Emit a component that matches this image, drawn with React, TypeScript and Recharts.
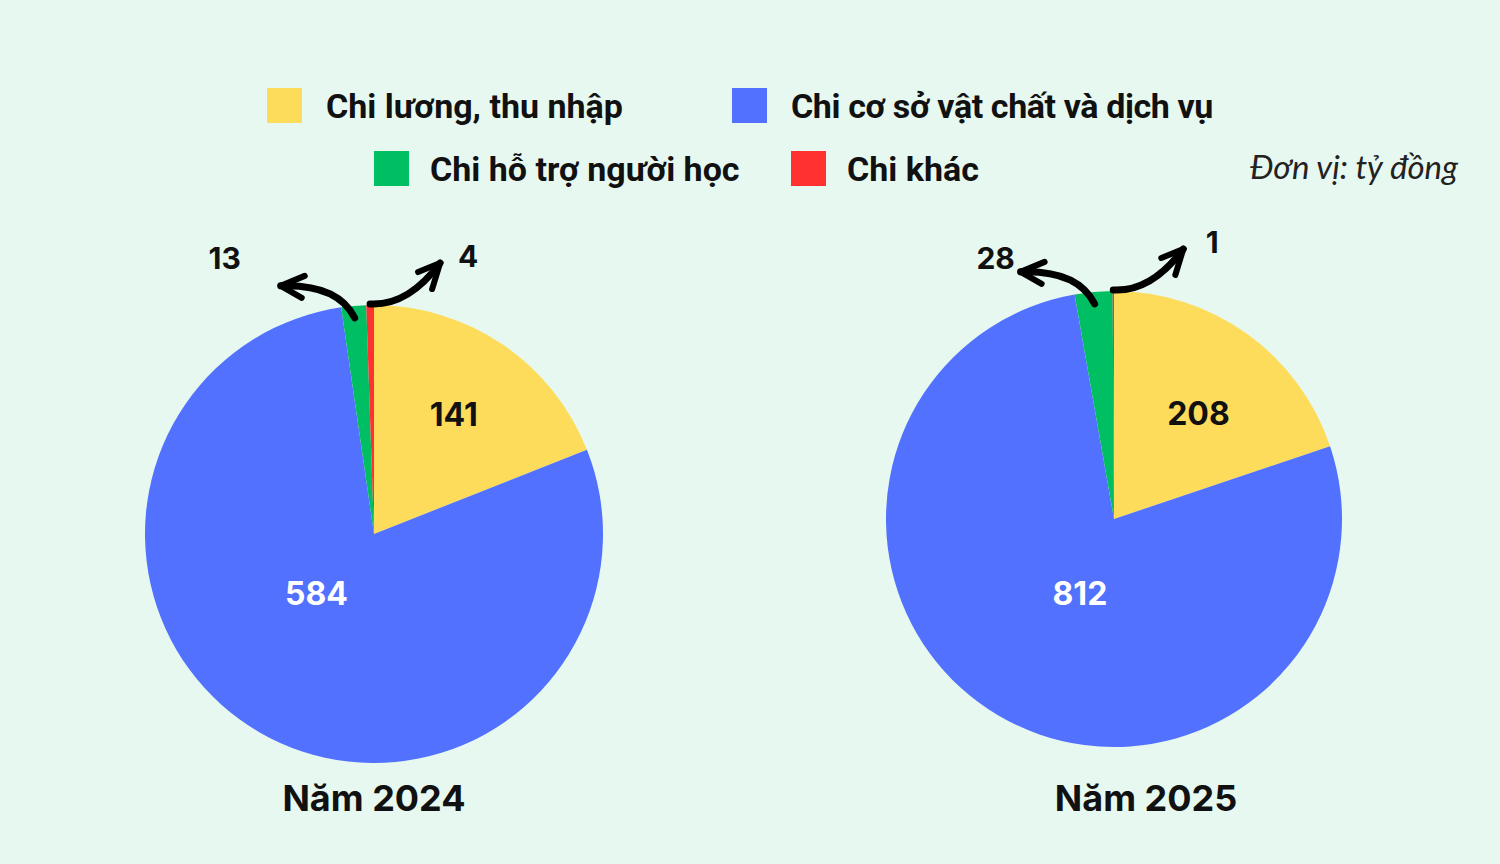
import { Pie, PieChart } from 'recharts';

const categories = [
  'Chi lương, thu nhập',
  'Chi cơ sở vật chất và dịch vụ',
  'Chi hỗ trợ người học',
  'Chi khác',
];
const values2024 = [141, 584, 13, 4];
const values2025 = [208, 812, 28, 1];
const years = ['Năm 2024', 'Năm 2025'];
const colors = ['#FDDC5C', '#5271FF', '#00BF63', '#FF3131'];
const unitLabel = 'Đơn vị: tỷ đồng';

const RADIAN = Math.PI / 180;
const BG = '#E7F8F0';

// layout of each pie; label nudges are hand placement of the value texts
const pies = [
  {
    values: values2024, cx: 374, cy: 534, r: 229, titleX: 374,
    inner: [[0, -2], [-15, -14]], leftText: [-56, -28], rightText: [28, -7],
  },
  {
    values: values2025, cx: 1114, cy: 519, r: 228, titleX: 1146,
    inner: [[2, 9], [9, 2]], leftText: [-25, -14], rightText: [29, -7],
  },
];

const legendRows = [
  [{ i: 0, x: 267 }, { i: 1, x: 732 }],
  [{ i: 2, x: 374 }, { i: 3, x: 791 }],
];

const numFont = 'Inter, "DejaVu Sans", sans-serif';

function polar(cx: number, cy: number, r: number, a: number) {
  return [cx + r * Math.cos(-a * RADIAN), cy + r * Math.sin(-a * RADIAN)];
}

function makeLabel(pie: (typeof pies)[number]) {
  return (props: any) => {
    const { cx, cy, midAngle, outerRadius, index, value } = props;
    if (index === 0 || index === 1) {
      const frac = index === 0 ? 0.62 : 0.37;
      const [x, y] = polar(cx, cy, outerRadius * frac, midAngle);
      const [nx, ny] = pie.inner[index];
      return (
        <text
          x={x + nx}
          y={y + ny}
          fill={index === 0 ? '#111' : '#fff'}
          textAnchor="middle"
          dominantBaseline="central"
          style={{ fontFamily: numFont, fontWeight: 700, fontSize: 32 }}>
          {value}
        </text>
      );
    }
    const left = index === 2;
    const [sx, sy] = polar(cx, cy, outerRadius + (left ? -12 : 1), midAngle);
    const tip = left ? [sx - 74, sy - 32] : [sx + 70, sy - 41];
    const ctrl = left ? [sx - 17, sy - 34] : [sx + 38, sy + 2];
    const arms = left
      ? [[tip[0] + 24, tip[1] - 10], [tip[0] + 21, tip[1] + 12]]
      : [[tip[0] - 22, tip[1] + 9], [tip[0] - 8, tip[1] + 26]];
    const off = left ? pie.leftText : pie.rightText;
    return (
      <g>
        <path
          d={`M${sx},${sy} Q${ctrl[0]},${ctrl[1]} ${tip[0]},${tip[1]}`}
          fill="none"
          stroke="#000"
          strokeWidth={7}
          strokeLinecap="round"
        />
        <polyline
          points={`${arms[0][0]},${arms[0][1]} ${tip[0]},${tip[1]} ${arms[1][0]},${arms[1][1]}`}
          fill="none"
          stroke="#000"
          strokeWidth={6}
          strokeLinecap="round"
          strokeLinejoin="round"
        />
        <text
          x={tip[0] + off[0]}
          y={tip[1] + off[1]}
          fill="#111"
          textAnchor="middle"
          dominantBaseline="central"
          style={{ fontFamily: numFont, fontWeight: 700, fontSize: 30 }}>
          {value}
        </text>
      </g>
    );
  };
}

export default function App() {
  return (
    <div
      style={{
        position: 'absolute',
        left: 0,
        top: 0,
        width: 1500,
        height: 864,
        background: BG,
        overflow: 'hidden',
      }}>
      <PieChart width={1500} height={864} margin={{ top: 0, right: 0, bottom: 0, left: 0 }}>
        {pies.map((p, k) => (
          <Pie
            key={k}
            data={p.values.map((v, i) => ({ name: categories[i], value: v, fill: colors[i] }))}
            dataKey="value"
            cx={p.cx}
            cy={p.cy}
            outerRadius={p.r}
            startAngle={90}
            endAngle={-270}
            stroke="none"
            label={makeLabel(p)}
            labelLine={false}
            isAnimationActive={false}
          />
        ))}
      </PieChart>

      {legendRows.map((row, ri) =>
        row.map(({ i, x }) => (
          <div
            key={i}
            style={{
              position: 'absolute',
              left: x,
              top: ri === 0 ? 88 : 151,
              height: 35,
              display: 'flex',
              alignItems: 'center',
              whiteSpace: 'nowrap',
            }}>
            <span style={{ width: 35, height: 35, background: colors[i], display: 'inline-block', flex: 'none' }} />
            <span
              style={{
                marginLeft: ri === 0 ? 24 : 21,
                fontFamily: 'Roboto, sans-serif',
                fontWeight: 700,
                fontSize: 34,
                letterSpacing: i === 1 ? -0.4 : 0,
                color: '#111',
              }}>
              {categories[i]}
            </span>
          </div>
        ))
      )}

      <div
        style={{
          position: 'absolute',
          right: 42,
          top: 146,
          fontFamily: 'Lato, "Open Sans", sans-serif',
          fontStyle: 'italic',
          fontSize: 33,
          color: '#222',
          whiteSpace: 'nowrap',
        }}>
        {unitLabel}
      </div>

      {pies.map((p, k) => (
        <div
          key={k}
          style={{
            position: 'absolute',
            left: p.titleX - 150,
            width: 300,
            top: 776,
            textAlign: 'center',
            fontFamily: numFont,
            fontWeight: 700,
            fontSize: 36,
            color: '#111',
          }}>
          {years[k]}
        </div>
      ))}
    </div>
  );
}
